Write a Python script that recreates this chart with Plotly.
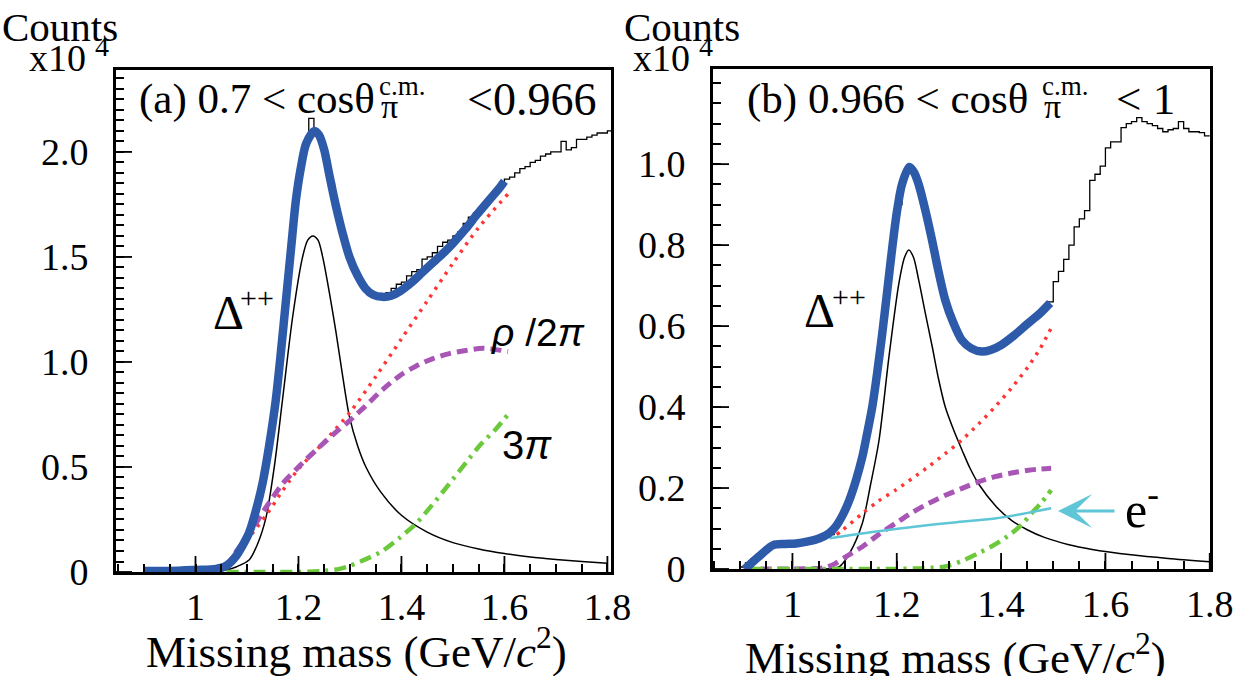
import plotly.graph_objects as go

W, H = 1240, 676
SERIF = "Liberation Serif"
SANS = "Liberation Sans"

# ---------------- data : panel (a) 0.7 < cos < 0.966 ----------------
hist_a_start = 0.90
hist_bin = 0.01
hist_a = [0.005, 0.005, 0.005, 0.005, 0.005, 0.005, 0.005, 0.01, 0.01, 0.01,
          0.01, 0.01, 0.01, 0.012, 0.015, 0.025, 0.04, 0.065, 0.10, 0.145,
          0.19, 0.27, 0.37, 0.49, 0.63, 0.80, 1.02, 1.27, 1.52, 1.77,
          1.92, 2.04, 2.16, 2.10, 2.05, 1.96, 1.85, 1.73, 1.62, 1.53,
          1.46, 1.41, 1.37, 1.34, 1.32, 1.31, 1.32, 1.33, 1.35, 1.37,
          1.38, 1.41, 1.43, 1.44, 1.49, 1.50, 1.52, 1.55, 1.57, 1.58,
          1.60, 1.62, 1.66, 1.69, 1.71, 1.73, 1.76, 1.79, 1.82, 1.85,
          1.87, 1.88, 1.90, 1.92, 1.93, 1.95, 1.96, 1.98, 1.99, 2.00,
          2.00, 2.05, 2.01, 2.02, 2.06, 2.06, 2.07, 2.08, 2.09, 2.09,
          2.10]

fit_a_x = [0.90, 0.95, 1.00, 1.04, 1.06, 1.078, 1.09, 1.104, 1.117, 1.13, 1.143, 1.156,
           1.166, 1.176, 1.186, 1.195, 1.205, 1.215, 1.231, 1.24, 1.25, 1.26, 1.273,
           1.286, 1.299, 1.315, 1.33, 1.345, 1.363, 1.38, 1.396, 1.42, 1.44, 1.46,
           1.48, 1.50, 1.525, 1.546, 1.57, 1.591, 1.60]
fit_a_y = [0.005, 0.005, 0.01, 0.015, 0.03, 0.073, 0.12, 0.186, 0.29, 0.42, 0.60, 0.82,
           1.05, 1.30, 1.55, 1.77, 1.93, 2.04, 2.10, 2.08, 2.01, 1.89, 1.74,
           1.61, 1.50, 1.41, 1.35, 1.32, 1.31, 1.315, 1.335, 1.38, 1.425, 1.47,
           1.515, 1.565, 1.635, 1.70, 1.77, 1.83, 1.86]

delta_a_x = [1.03, 1.06, 1.08, 1.104, 1.12, 1.137, 1.153, 1.169, 1.189, 1.208, 1.218,
             1.228, 1.238, 1.247, 1.26, 1.273, 1.286, 1.299, 1.315, 1.331, 1.36, 1.40,
             1.45, 1.50, 1.55, 1.60, 1.65, 1.70, 1.75, 1.80]
delta_a_y = [0.0, 0.01, 0.025, 0.057, 0.13, 0.26, 0.50, 0.82, 1.22, 1.50, 1.58,
             1.60, 1.58, 1.50, 1.33, 1.14, 0.93, 0.74, 0.60, 0.50, 0.38, 0.27,
             0.19, 0.14, 0.11, 0.088, 0.072, 0.06, 0.05, 0.042]

bkg_a_x = [1.07, 1.10, 1.14, 1.17, 1.20, 1.25, 1.30, 1.35, 1.40, 1.45, 1.50, 1.55, 1.607]
bkg_a_y = [0.04, 0.15, 0.28, 0.39, 0.49, 0.62, 0.76, 0.93, 1.11, 1.29, 1.47, 1.64, 1.80]

rho_a_x = [1.06, 1.08, 1.104, 1.135, 1.169, 1.20, 1.234, 1.27, 1.299, 1.33, 1.364,
           1.40, 1.428, 1.46, 1.493, 1.525, 1.558, 1.607]
rho_a_y = [0.02, 0.10, 0.18, 0.30, 0.42, 0.50, 0.58, 0.66, 0.72, 0.79, 0.87,
           0.94, 0.98, 1.015, 1.04, 1.055, 1.065, 1.05]

pi3_a_x = [1.06, 1.15, 1.20, 1.25, 1.28, 1.30, 1.33, 1.363, 1.395, 1.428, 1.46,
           1.493, 1.525, 1.555, 1.583, 1.607]
pi3_a_y = [0.0, 0.0, 0.0, 0.005, 0.015, 0.03, 0.06, 0.10, 0.16, 0.23, 0.32,
           0.42, 0.52, 0.61, 0.68, 0.75]

# ---------------- data : panel (b) 0.966 < cos < 1 ----------------
hist_b_start = 0.90
hist_b = [0.005, 0.015, 0.025, 0.035, 0.045, 0.052, 0.058, 0.06, 0.061, 0.062,
          0.063, 0.064, 0.065, 0.067, 0.069, 0.072, 0.078, 0.085, 0.108, 0.13,
          0.16, 0.19, 0.23, 0.285, 0.35, 0.42, 0.51, 0.61, 0.72, 0.83,
          0.90, 0.965, 0.995, 0.975, 0.94, 0.885, 0.825, 0.76, 0.705, 0.66,
          0.625, 0.59, 0.565, 0.55, 0.54, 0.537, 0.536, 0.538, 0.542, 0.548,
          0.555, 0.565, 0.575, 0.587, 0.60, 0.61, 0.62, 0.632, 0.643, 0.66,
          0.71, 0.735, 0.765, 0.80, 0.845, 0.865, 0.885, 0.96, 0.975, 0.995,
          1.04, 1.055, 1.055, 1.09, 1.10, 1.105, 1.115, 1.105, 1.10, 1.095,
          1.088, 1.08, 1.085, 1.088, 1.105, 1.088, 1.08, 1.08, 1.078, 1.07]

fit_b_x = [0.909, 0.935, 0.963, 0.985, 1.007, 1.03, 1.052, 1.07, 1.083, 1.097, 1.109,
           1.122, 1.134, 1.144, 1.153, 1.163, 1.172, 1.182, 1.191, 1.20, 1.21, 1.224,
           1.233, 1.242, 1.255, 1.268, 1.28, 1.293, 1.308, 1.325, 1.343, 1.363, 1.38,
           1.40, 1.425, 1.452, 1.475, 1.494]
fit_b_y = [0.0, 0.03, 0.059, 0.062, 0.063, 0.068, 0.076, 0.088, 0.105, 0.135, 0.17,
           0.22, 0.277, 0.34, 0.40, 0.49, 0.58, 0.69, 0.79, 0.88, 0.95, 0.993,
           0.98, 0.95, 0.885, 0.81, 0.735, 0.664, 0.61, 0.565, 0.545, 0.537, 0.541,
           0.553, 0.577, 0.607, 0.632, 0.657]

delta_b_x = [1.05, 1.09, 1.11, 1.134, 1.15, 1.166, 1.185, 1.204, 1.215, 1.223, 1.232,
             1.242, 1.255, 1.268, 1.28, 1.293, 1.31, 1.325, 1.34, 1.357, 1.39, 1.42,
             1.45, 1.483, 1.53, 1.572, 1.649, 1.72, 1.80]
delta_b_y = [0.0, 0.006, 0.04, 0.113, 0.21, 0.318, 0.524, 0.705, 0.77, 0.788, 0.77,
             0.714, 0.63, 0.549, 0.47, 0.40, 0.34, 0.294, 0.25, 0.21, 0.155, 0.12,
             0.097, 0.078, 0.06, 0.049, 0.035, 0.026, 0.018]

bkg_b_x = [1.085, 1.096, 1.134, 1.165, 1.198, 1.23, 1.261, 1.293, 1.325, 1.356,
           1.388, 1.42, 1.452, 1.475, 1.496]
bkg_b_y = [0.085, 0.096, 0.137, 0.168, 0.195, 0.224, 0.253, 0.285, 0.319, 0.357,
           0.40, 0.447, 0.50, 0.545, 0.595]

rho_b_x = [0.906, 0.95, 1.00, 1.06, 1.08, 1.102, 1.134, 1.165, 1.198, 1.23, 1.261,
           1.293, 1.325, 1.356, 1.388, 1.42, 1.452, 1.475, 1.496]
rho_b_y = [0.0, 0.0, 0.0, 0.003, 0.012, 0.03, 0.055, 0.085, 0.113, 0.14, 0.162,
           0.182, 0.199, 0.215, 0.228, 0.237, 0.244, 0.247, 0.249]

pi3_b_x = [0.92, 1.00, 1.10, 1.20, 1.25, 1.293, 1.325, 1.357, 1.39, 1.42, 1.44,
           1.458, 1.478, 1.496]
pi3_b_y = [0.0, 0.0, 0.0, 0.0, 0.002, 0.006, 0.02, 0.039, 0.062, 0.088, 0.11,
           0.137, 0.165, 0.195]

ele_b_x = [1.071, 1.15, 1.23, 1.31, 1.388, 1.44, 1.496]
ele_b_y = [0.076, 0.091, 0.104, 0.115, 0.125, 0.136, 0.15]

xtick_vals = [1.0, 1.2, 1.4, 1.6, 1.8]
xtick_text = ["1", "1.2", "1.4", "1.6", "1.8"]
ytick_a_vals = [0, 0.5, 1.0, 1.5, 2.0]
ytick_a_text = ["0", "0.5", "1.0", "1.5", "2.0"]
ytick_b_vals = [0, 0.2, 0.4, 0.6, 0.8, 1.0]
ytick_b_text = ["0", "0.2", "0.4", "0.6", "0.8", "1.0"]
minor_step = 0.05

# ---------------- styles ----------------
BLUE = "#2d5aa9"
RED = "#ff3535"
MAG = "#a855b6"
GRN = "#6cc93c"
CYAN = "#5ec6d6"
YPAD = "\u00a0\u2009"   # gap between y tick labels and the frame
MAJOR_LEN = 16

XA = dict(dom=[116 / W, 611 / W], rng=[0.8456, 1.807])
YA = dict(dom=[1 - 572 / H, 1 - 70 / H], rng=[0, 2.39])
XB = dict(dom=[713 / W, 1210 / W], rng=[0.8477, 1.8005])
YB = dict(dom=[1 - 569 / H, 1 - 69 / H], rng=[0, 1.235])


def hist_xy(start, width, vals):
    xs = [start + i * width for i in range(len(vals) + 1)]
    ys = list(vals) + [vals[-1]]
    return xs, ys


def grid_vals(lo, hi):
    out = []
    k = 0
    while k * minor_step <= hi + 1e-9:
        v = round(k * minor_step, 3)
        if v >= lo:
            out.append(v)
        k += 1
    return out


fig = go.Figure()


def add_panel(xa, ya, hstart, hvals, comps):
    hx, hy = hist_xy(hstart, hist_bin, hvals)
    fig.add_trace(go.Scatter(x=hx, y=hy, mode="lines", line=dict(color="black", width=1.3, shape="hv"),
                             xaxis=xa, yaxis=ya, hoverinfo="skip"))
    for (xs, ys, color, width, dash) in comps:
        fig.add_trace(go.Scatter(x=xs, y=ys, mode="lines",
                                 line=dict(color=color, width=width, dash=dash, shape="spline", smoothing=0.8),
                                 xaxis=xa, yaxis=ya, hoverinfo="skip"))


add_panel("x", "y", hist_a_start, hist_a, [
    (delta_a_x, delta_a_y, "black", 1.5, "solid"),
    (bkg_a_x, bkg_a_y, RED, 3.5, "3px,6px"),
    (rho_a_x, rho_a_y, MAG, 5, "11px,6px"),
    (pi3_a_x, pi3_a_y, GRN, 4.5, "12px,6px,3px,6px"),
    (fit_a_x, fit_a_y, BLUE, 8.5, "solid"),
])
add_panel("x2", "y2", hist_b_start, hist_b, [
    (delta_b_x, delta_b_y, "black", 1.5, "solid"),
    (bkg_b_x, bkg_b_y, RED, 3.5, "3px,6px"),
    (rho_b_x, rho_b_y, MAG, 5, "11px,6px"),
    (pi3_b_x, pi3_b_y, GRN, 4.5, "12px,6px,3px,6px"),
    (ele_b_x, ele_b_y, CYAN, 2.5, "solid"),
    (fit_b_x, fit_b_y, BLUE, 8.5, "solid"),
])

# empty traces that carry the overlaid minor-tick axes
for xa, ya in (("x3", "y3"), ("x5", "y5")):
    fig.add_trace(go.Scatter(x=[], y=[], mode="lines", xaxis=xa, yaxis=ya, hoverinfo="skip"))


def pxx(p):
    return p / W


def pxy(p):
    return 1 - p / H


def main_axis(spec, tv, tt, anchor):
    return dict(domain=spec["dom"], range=spec["rng"], tickmode="array", tickvals=tv, ticktext=tt,
                anchor=anchor, automargin=False, showgrid=False, zeroline=False, showline=True,
                linecolor="black", linewidth=2.5, mirror=True, ticks="", ticklen=0,
                tickfont=dict(family=SERIF, size=38, color="black"))


def tick_axis(spec, vals, length, width, anchor, base):
    return dict(range=spec["rng"], tickmode="array", tickvals=vals, overlaying=base,
                anchor=anchor, automargin=False, showgrid=False, zeroline=False, showline=False,
                showticklabels=False, ticks="inside", tickcolor="black", tickwidth=width, ticklen=length)


fig.update_layout(
    template="none",
    width=W, height=H, margin=dict(l=0, r=0, t=0, b=0, pad=0, autoexpand=False),
    paper_bgcolor="white", plot_bgcolor="white", showlegend=False,
    xaxis=main_axis(XA, xtick_vals, xtick_text, "y"),
    yaxis=main_axis(YA, ytick_a_vals, [t + YPAD for t in ytick_a_text], "x"),
    xaxis2=main_axis(XB, xtick_vals, xtick_text, "y2"),
    yaxis2=main_axis(YB, ytick_b_vals, [t + YPAD for t in ytick_b_text], "x2"),
    # short tick marks on every 0.05 step
    xaxis3=tick_axis(XA, grid_vals(XA["rng"][0], XA["rng"][1]), 8, 1.5, "y3", "x"),
    yaxis3=tick_axis(YA, grid_vals(YA["rng"][0], YA["rng"][1]), 8, 1.5, "x3", "y"),
    xaxis5=tick_axis(XB, grid_vals(XB["rng"][0], XB["rng"][1]), 8, 1.5, "y5", "x2"),
    yaxis5=tick_axis(YB, grid_vals(YB["rng"][0], YB["rng"][1]), 8, 1.5, "x5", "y2"),
)

# long tick marks at the labelled values, placed on the axes' own scales
shapes = []
for xref, yref, vals in (("x", "y domain", xtick_vals), ("x2", "y2 domain", xtick_vals)):
    for v in vals:
        shapes.append(dict(type="line", xref=xref, yref=yref, x0=v, x1=v, ysizemode="pixel",
                           yanchor=0, y0=0, y1=MAJOR_LEN, line=dict(color="black", width=1.8),
                           layer="above"))
for xref, yref, vals in (("x domain", "y", ytick_a_vals), ("x2 domain", "y2", ytick_b_vals)):
    for v in vals:
        shapes.append(dict(type="line", xref=xref, yref=yref, y0=v, y1=v, xsizemode="pixel",
                           xanchor=0, x0=0, x1=MAJOR_LEN, line=dict(color="black", width=1.8),
                           layer="above"))
fig.update_layout(shapes=shapes)


def ann(text, x, y, size, family=SERIF, xanchor="center", yanchor="middle", color="black"):
    return dict(text=text, x=pxx(x), y=pxy(y), xref="paper", yref="paper", showarrow=False,
                font=dict(family=family, size=size, color=color), xanchor=xanchor, yanchor=yanchor)


annotations = [
    # axis headers
    ann("Counts", 60, 27, 41),
    ann("x10", 88, 58, 38, xanchor="right"),
    ann("4", 93, 47, 28, xanchor="left"),
    ann("Counts", 682, 27, 41),
    ann("x10", 692, 58, 38, xanchor="right"),
    ann("4", 697, 47, 28, xanchor="left"),
    # panel titles
    ann("(a) 0.7 &lt; cosθ", 137, 99, 43, xanchor="left"),
    ann("π", 379, 106, 34, xanchor="left"),
    ann("c.m.", 377, 86, 27, xanchor="left"),
    ann("&lt;0.966", 598, 99, 46, xanchor="right"),
    ann("(b) 0.966 &lt; cosθ", 745, 99, 43, xanchor="left"),
    ann("π", 1042, 106, 34, xanchor="left"),
    ann("c.m.", 1040, 86, 27, xanchor="left"),
    ann("&lt; 1", 1177, 99, 45, xanchor="right"),
    # x axis titles
    ann("Missing mass (GeV/<i>c</i><sup>2</sup>)", 356, 648, 45),
    ann("Missing mass (GeV/<i>c</i><sup>2</sup>)", 955, 654, 45),
    # component labels
    ann("Δ", 228, 312, 48),
    ann("++", 257, 297, 30),
    ann("Δ", 819, 310, 48),
    ann("++", 849, 296, 30),
    ann("<i>ρ</i> /2<i>π</i>", 538, 332, 39, family=SANS),
    ann("3<i>π</i>", 527, 445, 40, family=SANS),
    ann("e<sup>-</sup>", 1142, 506, 50),
    # e- arrow
    dict(x=pxx(1058), y=pxy(511), xref="paper", yref="paper", text="", showarrow=True,
         ax=58, ay=0, arrowhead=3, arrowsize=1.9, arrowwidth=3, arrowcolor=CYAN),
]
fig.update_layout(annotations=annotations)

fig.write_html("out.html")
